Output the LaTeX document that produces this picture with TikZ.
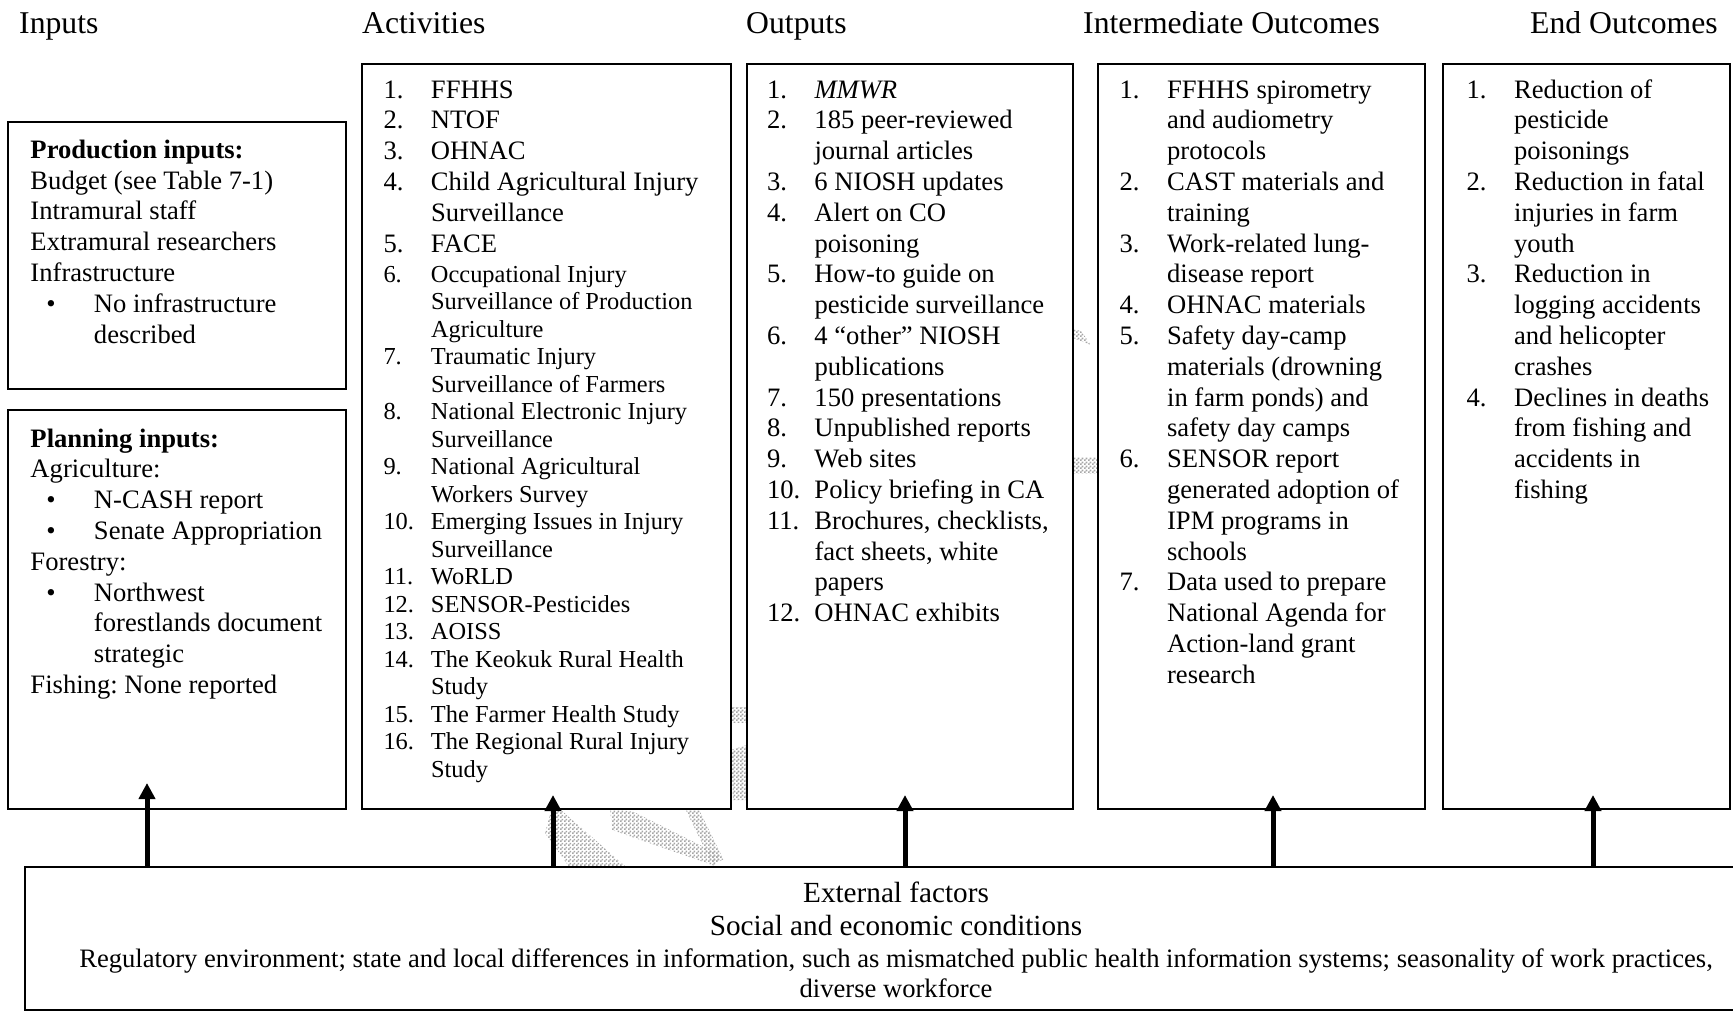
\documentclass[tikz,border=0pt]{standalone}
\usepackage{fontspec}
\setmainfont{Liberation Serif}
\usetikzlibrary{arrows.meta,patterns}

% fine two-unit checker used for the faint background marks
\pgfdeclarepatternformonly{finecheck}{\pgfpointorigin}{\pgfqpoint{4pt}{4pt}}{\pgfqpoint{4pt}{4pt}}{%
  \pgfpathrectangle{\pgfpointorigin}{\pgfqpoint{2pt}{2pt}}%
  \pgfpathrectangle{\pgfqpoint{2pt}{2pt}}{\pgfqpoint{2pt}{2pt}}%
  \pgfusepath{fill}}

% type sizes (1pt = one unit of the picture)
\newcommand\bodysize{\fontsize{26.6}{30.8}\selectfont}
\newcommand\smallsize{\fontsize{24.4}{27.5}\selectfont}
\newcommand\headsize{\fontsize{31.7}{36}\selectfont}
\newcommand\extsize{\fontsize{29.2}{33}\selectfont}
% numbered list helpers: number column and hanging indent
\newcommand\numitem[1]{\makebox[47.5pt][l]{#1}}
\newcommand\itemcont{\hspace*{47.5pt}}
% bullet helpers for the inputs boxes
\newcommand\bulitem{\hspace*{16pt}\makebox[47.5pt][l]{•}}
\newcommand\bulcont{\hspace*{63.5pt}}
% a block of lines whose first baseline sits on the node's base
\newcommand\lines[2]{\parbox[t]{500pt}{#1\raggedright #2}}

\frenchspacing

\begin{document}
\begin{tikzpicture}[x=1pt,y=-1pt,
  box/.style={draw=black, line width=2pt, fill=white, rectangle, inner sep=0pt},
  txt/.style={anchor=base west, inner sep=0pt, outer sep=0pt},
  head/.style={anchor=base west, inner sep=0pt, font=\headsize},
  extline/.style={anchor=base, inner sep=0pt},
  riser/.style={line width=5pt, -{Triangle[width=16pt,length=16pt]}},
  wm/.style={pattern=finecheck, pattern color=black!35, draw=none}]

\useasboundingbox (0,0) rectangle (1733,1013);
\clip (0,0) rectangle (1733,1013);

% faint watermark fragments behind the boxes
\fill[wm] (553,803) -- (625,866) -- (570,868) -- (545,833) -- cycle;
\fill[wm] (610,808) -- (634,812) -- (720,855) -- (715,866) -- (612,830) -- cycle;
\fill[wm] (695.4,802.4) -- (723.4,859.4) -- (712.6,864.6) -- (684.6,807.6) -- cycle;
\fill[wm] (731,707) rectangle (747,722);
\fill[wm] (731,750) -- (747,745) -- (747,800) -- (733,800) -- cycle;
\fill[wm] (1073,329) -- (1081,331) -- (1091,345) -- (1073,338) -- cycle;
\fill[wm] (1073,457) rectangle (1097,473);

% column headings
\node[head] (hIn)  at (19,33)   {Inputs};
\node[head] (hAct) at (362,33)  {Activities};
\node[head] (hOut) at (746,33)  {Outputs};
\node[head] (hMid) at (1083,33) {Intermediate Outcomes};
\node[head] (hEnd) at (1530,33) {End Outcomes};

% boxes
\node[box, minimum width=337.7, minimum height=267] (prod) at (177.15,255.5) {};
\node[box, minimum width=337.7, minimum height=399] (plan) at (177.15,609.5) {};
\node[box, minimum width=369, minimum height=745] (act) at (546.5,436.5) {};
\node[box, minimum width=326, minimum height=745] (out) at (910,436.5) {};
\node[box, minimum width=327, minimum height=745] (mid) at (1261.5,436.5) {};
\node[box, minimum width=287, minimum height=745] (end) at (1586.5,436.5) {};
\node[box, minimum width=1742, minimum height=143] (ext) at (896,938.5) {};

% inputs
\node[txt] (prodtext) at (30.5,158.3) {\lines{\bodysize}{%
\textbf{Production inputs:}\\
Budget (see Table 7-1)\\
Intramural staff\\
Extramural researchers\\
Infrastructure\\
\bulitem No infrastructure\\
\bulcont described}};

\node[txt] (plantext) at (30.5,447) {\lines{\bodysize}{%
\textbf{Planning inputs:}\\
Agriculture:\\
\bulitem N-CASH report\\
\bulitem Senate Appropriation\\
Forestry:\\
\bulitem Northwest\\
\bulcont forestlands document\\
\bulcont strategic\\
Fishing: None reported}};

% activities
\node[txt] (acttextA) at (383.5,98) {\lines{\bodysize}{%
\numitem{1.}FFHHS\\
\numitem{2.}NTOF\\
\numitem{3.}OHNAC\\
\numitem{4.}Child Agricultural Injury\\
\itemcont Surveillance\\
\numitem{5.}FACE}};

\node[txt] (acttextB) at (383.5,282) {\lines{\smallsize}{%
\numitem{6.}Occupational Injury\\
\itemcont Surveillance of Production\\
\itemcont Agriculture\\
\numitem{7.}Traumatic Injury\\
\itemcont Surveillance of Farmers\\
\numitem{8.}National Electronic Injury\\
\itemcont Surveillance\\
\numitem{9.}National Agricultural\\
\itemcont Workers Survey\\
\numitem{10.}Emerging Issues in Injury\\
\itemcont Surveillance\\
\numitem{11.}WoRLD\\
\numitem{12.}SENSOR-Pesticides\\
\numitem{13.}AOISS\\
\numitem{14.}The Keokuk Rural Health\\
\itemcont Study\\
\numitem{15.}The Farmer Health Study\\
\numitem{16.}The Regional Rural Injury\\
\itemcont Study}};

% outputs
\node[txt] (outtext) at (767,98) {\lines{\bodysize}{%
\numitem{1.}\textit{MMWR}\\
\numitem{2.}185 peer-reviewed\\
\itemcont journal articles\\
\numitem{3.}6 NIOSH updates\\
\numitem{4.}Alert on CO\\
\itemcont poisoning\\
\numitem{5.}How-to guide on\\
\itemcont pesticide surveillance\\
\numitem{6.}4 “other” NIOSH\\
\itemcont publications\\
\numitem{7.}150 presentations\\
\numitem{8.}Unpublished reports\\
\numitem{9.}Web sites\\
\numitem{10.}Policy briefing in CA\\
\numitem{11.}Brochures, checklists,\\
\itemcont fact sheets, white\\
\itemcont papers\\
\numitem{12.}OHNAC exhibits}};

% intermediate outcomes
\node[txt] (midtext) at (1119.6,98) {\lines{\bodysize}{%
\numitem{1.}FFHHS spirometry\\
\itemcont and audiometry\\
\itemcont protocols\\
\numitem{2.}CAST materials and\\
\itemcont training\\
\numitem{3.}Work-related lung-\\
\itemcont disease report\\
\numitem{4.}OHNAC materials\\
\numitem{5.}Safety day-camp\\
\itemcont materials (drowning\\
\itemcont in farm ponds) and\\
\itemcont safety day camps\\
\numitem{6.}SENSOR report\\
\itemcont generated adoption of\\
\itemcont IPM programs in\\
\itemcont schools\\
\numitem{7.}Data used to prepare\\
\itemcont National Agenda for\\
\itemcont Action-land grant\\
\itemcont research}};

% end outcomes
\node[txt] (endtext) at (1466.6,98) {\lines{\bodysize}{%
\numitem{1.}Reduction of\\
\itemcont pesticide\\
\itemcont poisonings\\
\numitem{2.}Reduction in fatal\\
\itemcont injuries in farm\\
\itemcont youth\\
\numitem{3.}Reduction in\\
\itemcont logging accidents\\
\itemcont and helicopter\\
\itemcont crashes\\
\numitem{4.}Declines in deaths\\
\itemcont from fishing and\\
\itemcont accidents in\\
\itemcont fishing}};

% external factors
\node[extline, font=\extsize] (ext1) at (896,902) {External factors};
\node[extline, font=\extsize] (ext2) at (896,935) {Social and economic conditions};
\node[extline, font=\bodysize] (ext3) at (896,967) {Regulatory environment; state and local differences in information, such as mismatched public health information systems; seasonality of work practices,};
\node[extline, font=\bodysize] (ext4) at (896,997) {diverse workforce};

% arrow tips inside the boxes
\coordinate (tipIn)  at (147,783);
\coordinate (tipAct) at (553,795);
\coordinate (tipOut) at (905,795);
\coordinate (tipMid) at (1273,795);
\coordinate (tipEnd) at (1593,795);

\draw[riser] (ext.north -| tipIn)  -- (tipIn);
\draw[riser] (ext.north -| tipAct) -- (tipAct);
\draw[riser] (ext.north -| tipOut) -- (tipOut);
\draw[riser] (ext.north -| tipMid) -- (tipMid);
\draw[riser] (ext.north -| tipEnd) -- (tipEnd);
\end{tikzpicture}
\end{document}
